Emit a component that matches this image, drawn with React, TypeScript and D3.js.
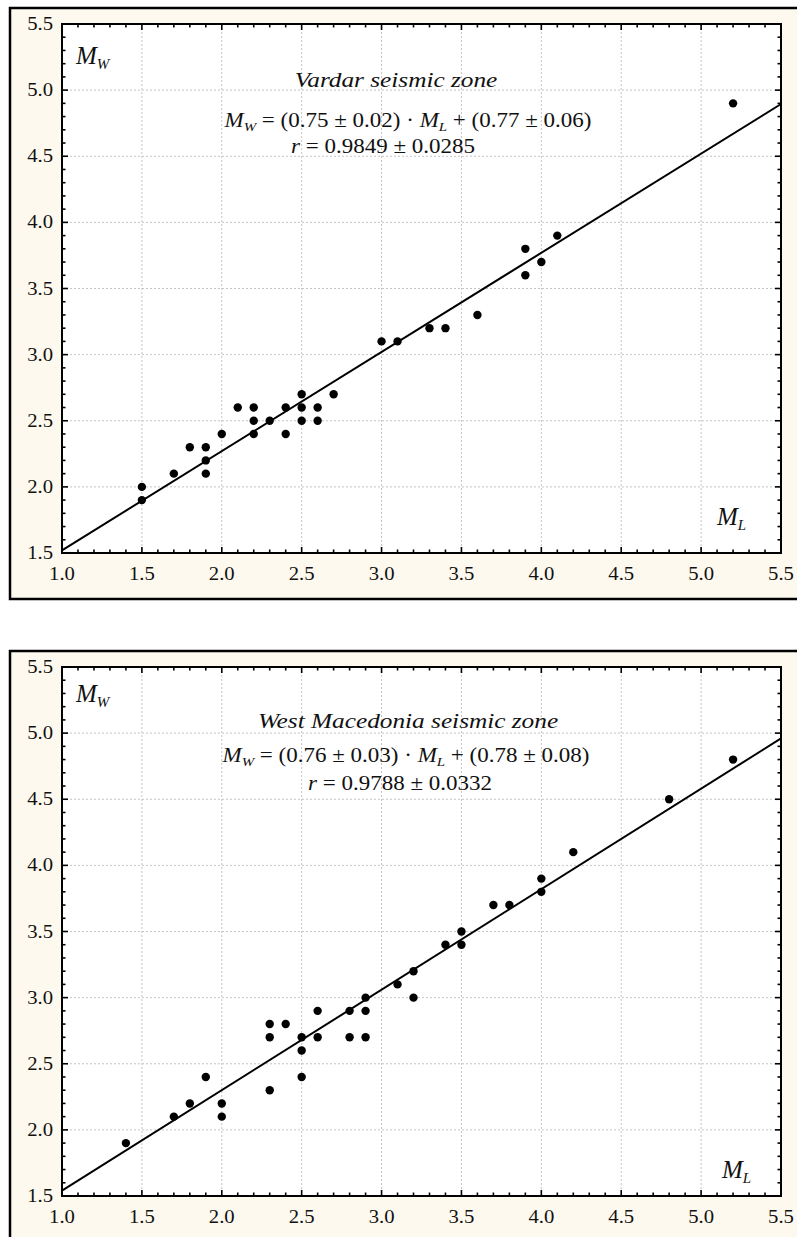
import React from 'react';
import * as d3 from 'd3';

// Vardar seismic zone: local magnitude vs moment magnitude
const vardarML = [1.5, 1.5, 1.7, 1.8, 1.9, 1.9, 1.9, 2.0, 2.1, 2.2, 2.2, 2.2, 2.3, 2.4, 2.4, 2.5, 2.5, 2.5, 2.6, 2.6, 2.7, 3.0, 3.1, 3.3, 3.4, 3.6, 3.9, 3.9, 4.0, 4.1, 5.2];
const vardarMW = [2.0, 1.9, 2.1, 2.3, 2.3, 2.2, 2.1, 2.4, 2.6, 2.6, 2.5, 2.4, 2.5, 2.6, 2.4, 2.7, 2.6, 2.5, 2.6, 2.5, 2.7, 3.1, 3.1, 3.2, 3.2, 3.3, 3.8, 3.6, 3.7, 3.9, 4.9];
const vardarFit = [0.75, 0.77]; // slope, intercept

// West Macedonia seismic zone
const macedoniaML = [1.4, 1.7, 1.8, 1.9, 2.0, 2.0, 2.3, 2.3, 2.3, 2.4, 2.5, 2.5, 2.5, 2.6, 2.6, 2.8, 2.8, 2.9, 2.9, 2.9, 3.1, 3.2, 3.2, 3.4, 3.5, 3.5, 3.7, 3.8, 4.0, 4.0, 4.2, 4.8, 5.2];
const macedoniaMW = [1.9, 2.1, 2.2, 2.4, 2.2, 2.1, 2.8, 2.7, 2.3, 2.8, 2.7, 2.6, 2.4, 2.9, 2.7, 2.9, 2.7, 3.0, 2.9, 2.7, 3.1, 3.2, 3.0, 3.4, 3.5, 3.4, 3.7, 3.7, 3.9, 3.8, 4.1, 4.5, 4.8];
const macedoniaFit = [0.76, 0.78];

const xTickLabels = ['1.0', '1.5', '2.0', '2.5', '3.0', '3.5', '4.0', '4.5', '5.0', '5.5'];
const yTickLabels = ['1.5', '2.0', '2.5', '3.0', '3.5', '4.0', '4.5', '5.0', '5.5'];

const vardarText = ['Vardar seismic zone', '(0.75 ± 0.02)', '(0.77 ± 0.06)', '0.9849 ± 0.0285'];
const macedoniaText = ['West Macedonia seismic zone', '(0.76 ± 0.03)', '(0.78 ± 0.08)', '0.9788 ± 0.0332'];

const FONT = '"Liberation Serif", "Times New Roman", serif';
const LEFT = 62;
const RIGHT = 781;
const PH = 529;

type Layout = {
  top: number;
  mw: number;
  title: [number, number];
  eq: [number, number];
  r: [number, number];
  ml: [number, number];
};

// text anchors: [x, baseline offset from plot top]
const topLayout: Layout = { top: 24, mw: 40, title: [396, 63], eq: [408, 103], r: [383, 129], ml: [717, 501] };
const bottomLayout: Layout = { top: 667, mw: 35, title: [408, 61], eq: [406, 95], r: [400, 123], ml: [722, 511] };

function Panel({ ml, mw, fit, text, layout }: { ml: number[]; mw: number[]; fit: number[]; text: string[]; layout: Layout }) {
  const T = layout.top;
  const x = d3.scaleLinear().domain([1, 5.5]).range([LEFT, RIGHT]);
  const y = d3.scaleLinear().domain([1.5, 5.5]).range([T + PH, T]);
  const xMajor = xTickLabels.map(Number);
  const yMajor = yTickLabels.map(Number);
  const xMinor = d3.range(10, 56).map((d) => d / 10);
  const yMinor = d3.range(15, 56).map((d) => d / 10);
  const line = d3.line<number>().x((d) => x(d)).y((d) => y(fit[0] * d + fit[1]));
  const isMajor = (v: number) => Math.abs(v * 2 - Math.round(v * 2)) < 1e-6;
  const stx = 1.15;

  return (
    <g fontFamily={FONT}>
      <rect x={10} y={T - 16} width={800} height={591} fill="#fdf9ee" stroke="#000" strokeWidth={2.5} />
      <rect x={LEFT} y={T} width={RIGHT - LEFT} height={PH} fill="#fff" />
      {/* grid */}
      {xMajor.slice(1, -1).map((v) => (
        <line key={'gx' + v} x1={x(v)} x2={x(v)} y1={T} y2={T + PH} stroke="#c4c4c4" strokeDasharray="2,2" />
      ))}
      {yMajor.slice(1, -1).map((v) => (
        <line key={'gy' + v} x1={LEFT} x2={RIGHT} y1={y(v)} y2={y(v)} stroke="#c4c4c4" strokeDasharray="2,2" />
      ))}
      {/* ticks, inward on all sides */}
      {xMinor.map((v) => {
        const len = isMajor(v) ? 6 : 3.5;
        return (
          <g key={'tx' + v} stroke="#000" strokeWidth={1.6}>
            <line x1={x(v)} x2={x(v)} y1={T + PH} y2={T + PH - len} />
            <line x1={x(v)} x2={x(v)} y1={T} y2={T + len} />
          </g>
        );
      })}
      {yMinor.map((v) => {
        const len = isMajor(v) ? 6 : 3.5;
        return (
          <g key={'ty' + v} stroke="#000" strokeWidth={1.6}>
            <line x1={LEFT} x2={LEFT + len} y1={y(v)} y2={y(v)} />
            <line x1={RIGHT} x2={RIGHT - len} y1={y(v)} y2={y(v)} />
          </g>
        );
      })}
      <rect x={LEFT} y={T} width={RIGHT - LEFT} height={PH} fill="none" stroke="#000" strokeWidth={2} />
      {/* tick labels */}
      {xTickLabels.map((s) => (
        <text key={'lx' + s} transform={`translate(${x(+s)},${T + PH + 27}) scale(${stx},1)`} textAnchor="middle" fontSize={18} fill="#111">
          {s}
        </text>
      ))}
      {yTickLabels.map((s) => (
        <text key={'ly' + s} transform={`translate(53,${y(+s) + 6}) scale(${stx},1)`} textAnchor="end" fontSize={18} fill="#111">
          {s}
        </text>
      ))}
      {/* regression line and points */}
      <path d={line([1, 5.5]) || ''} fill="none" stroke="#000" strokeWidth={2} />
      {ml.map((v, i) => (
        <circle key={'p' + i} cx={x(v)} cy={y(mw[i])} r={4.2} fill="#000" />
      ))}
      {/* labels */}
      <text x={76} y={T + layout.mw} fontSize={25} fontStyle="italic" fill="#111">
        M<tspan fontSize={15} dy={5}>W</tspan>
      </text>
      <text x={layout.ml[0]} y={T + layout.ml[1]} fontSize={25} fontStyle="italic" fill="#111">
        M<tspan fontSize={15} dy={5}>L</tspan>
      </text>
      <text transform={`translate(${layout.title[0]},${T + layout.title[1]}) scale(${stx},1)`} textAnchor="middle" fontSize={22} fontStyle="italic" fill="#111">
        {text[0]}
      </text>
      <text transform={`translate(${layout.eq[0]},${T + layout.eq[1]}) scale(${stx},1)`} textAnchor="middle" fontSize={20} fill="#111">
        <tspan fontStyle="italic">M</tspan>
        <tspan fontStyle="italic" fontSize={13} dy={4}>W</tspan>
        <tspan dy={-4}>{' = ' + text[1] + ' · '}</tspan>
        <tspan fontStyle="italic">M</tspan>
        <tspan fontStyle="italic" fontSize={13} dy={4}>L</tspan>
        <tspan dy={-4}>{' + ' + text[2]}</tspan>
      </text>
      <text transform={`translate(${layout.r[0]},${T + layout.r[1]}) scale(${stx},1)`} textAnchor="middle" fontSize={20} fill="#111">
        <tspan fontStyle="italic">r</tspan>
        <tspan>{' = ' + text[3]}</tspan>
      </text>
    </g>
  );
}

export default function App() {
  return (
    <svg width={797} height={1237} style={{ position: 'absolute', left: 0, top: 0, background: '#fff' }}>
      <Panel ml={vardarML} mw={vardarMW} fit={vardarFit} text={vardarText} layout={topLayout} />
      <Panel ml={macedoniaML} mw={macedoniaMW} fit={macedoniaFit} text={macedoniaText} layout={bottomLayout} />
    </svg>
  );
}
